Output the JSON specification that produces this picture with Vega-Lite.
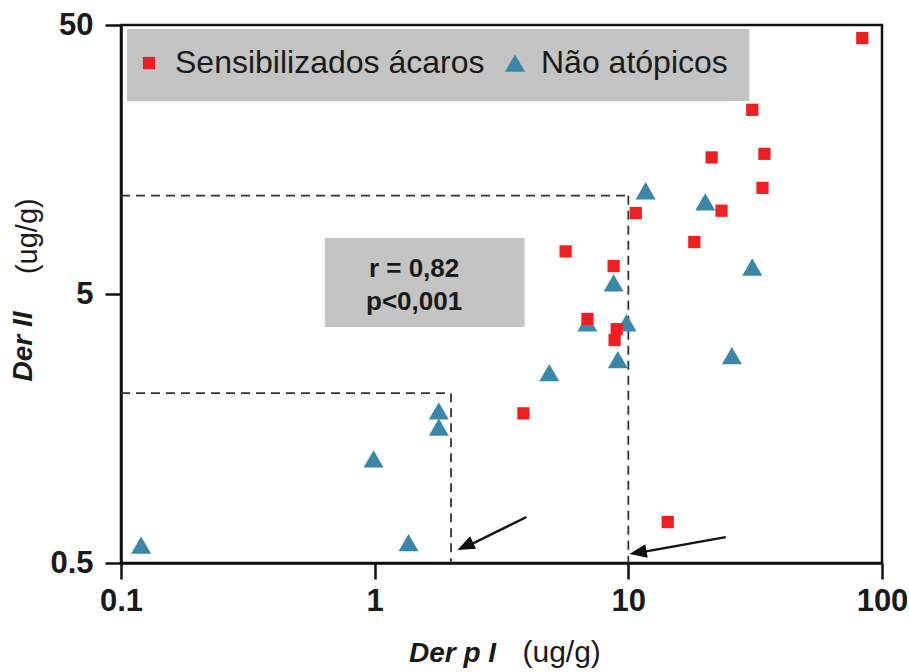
{
  "$schema": "https://vega.github.io/schema/vega-lite/v6.json",
  "width": 761,
  "height": 538,
  "autosize": {"type": "none"},
  "padding": {"left": 121, "top": 25, "right": 27, "bottom": 109},
  "background": "white",
  "config": {
    "view": {"stroke": "#111111", "strokeWidth": 2.5},
    "axis": {
      "grid": false,
      "domainColor": "#111111",
      "domainWidth": 2.5,
      "tickColor": "#111111",
      "tickWidth": 2.5,
      "tickSize": 16,
      "labelFont": "Liberation Sans",
      "labelFontWeight": "bold",
      "labelFontSize": 31,
      "labelColor": "#1a1a1a",
      "labelFlush": false,
      "labelOverlap": false,
      "titleFont": "Liberation Sans",
      "titleFontSize": 28,
      "titleFontWeight": "bold",
      "titleFontStyle": "italic",
      "titleColor": "#1a1a1a"
    }
  },
  "encoding": {
    "x": {
      "field": "x",
      "type": "quantitative",
      "scale": {"type": "log", "domain": [0.1, 100], "nice": false},
      "axis": {
        "values": [0.1, 1, 10, 100],
        "format": "~g",
        "labelPadding": 7,
        "title": "Der p I",
        "titleX": 331,
        "titleY": 90,
        "titleAlign": "center",
        "titleBaseline": "middle"
      }
    },
    "y": {
      "field": "y",
      "type": "quantitative",
      "scale": {"type": "log", "domain": [0.5, 50], "nice": false},
      "axis": {
        "values": [0.5, 5, 50],
        "format": "~g",
        "labelPadding": 12,
        "title": "Der II",
        "titleX": -98,
        "titleY": 321,
        "titleAngle": 270,
        "titleAlign": "center",
        "titleBaseline": "middle"
      }
    }
  },
  "layer": [
    {
      "data": {"values": [{"x": 0.1056, "x2": 30.0, "y": 48.3, "y2": 26.1}]},
      "mark": {"type": "rect", "fill": "#c4c4c4"},
      "encoding": {"x2": {"field": "x2"}, "y2": {"field": "y2"}}
    },
    {
      "data": {"values": [{"x": 0.636, "x2": 3.9, "y": 8.08, "y2": 3.77}]},
      "mark": {"type": "rect", "fill": "#c4c4c4"},
      "encoding": {"x2": {"field": "x2"}, "y2": {"field": "y2"}}
    },
    {
      "data": {"values": [
        {"x": 1.43, "y": 6.2, "label": "r = 0,82"},
        {"x": 1.43, "y": 4.67, "label": "p<0,001"}
      ]},
      "mark": {"type": "text", "font": "Liberation Sans", "fontWeight": "bold", "fontSize": 26, "color": "#1a1a1a", "align": "center", "baseline": "middle"},
      "encoding": {"text": {"field": "label"}}
    },
    {
      "data": {"values": [
        {"x": 0.1, "x2": 10, "y": 11.6, "y2": 11.6},
        {"x": 10, "x2": 10, "y": 11.6, "y2": 0.5},
        {"x": 0.1, "x2": 2, "y": 2.14, "y2": 2.14},
        {"x": 2, "x2": 2, "y": 2.14, "y2": 0.5}
      ]},
      "mark": {"type": "rule", "color": "#333333", "strokeWidth": 1.8, "strokeDash": [9, 6]},
      "encoding": {"x2": {"field": "x2"}, "y2": {"field": "y2"}}
    },
    {
      "data": {"values": [
        {"x": 3.97, "y": 0.741, "x2": 2.3, "y2": 0.575},
        {"x": 24.2, "y": 0.624, "x2": 10.9, "y2": 0.545}
      ]},
      "mark": {"type": "rule", "color": "#111111", "strokeWidth": 2.4},
      "encoding": {"x2": {"field": "x2"}, "y2": {"field": "y2"}}
    },
    {
      "data": {"values": [{"x": 2.12, "y": 0.559}]},
      "mark": {"type": "point", "filled": true, "opacity": 1, "color": "#111111", "shape": "M0,0L0.4,1L-0.4,1Z", "size": 1200, "angle": 244.5}
    },
    {
      "data": {"values": [{"x": 10.1, "y": 0.54}]},
      "mark": {"type": "point", "filled": true, "opacity": 1, "color": "#111111", "shape": "M0,0L0.4,1L-0.4,1Z", "size": 1200, "angle": 260}
    },
    {
      "data": {"values": [
        {"group": "Não atópicos", "x": 11.7, "y": 12.1},
        {"group": "Não atópicos", "x": 20.1, "y": 11.0},
        {"group": "Não atópicos", "x": 30.8, "y": 6.3},
        {"group": "Não atópicos", "x": 8.75, "y": 5.5},
        {"group": "Não atópicos", "x": 6.89, "y": 3.91},
        {"group": "Não atópicos", "x": 9.84, "y": 3.91},
        {"group": "Não atópicos", "x": 9.09, "y": 2.85},
        {"group": "Não atópicos", "x": 25.6, "y": 2.95},
        {"group": "Não atópicos", "x": 4.88, "y": 2.55},
        {"group": "Não atópicos", "x": 1.79, "y": 1.84},
        {"group": "Não atópicos", "x": 1.79, "y": 1.6},
        {"group": "Não atópicos", "x": 0.99, "y": 1.22},
        {"group": "Não atópicos", "x": 1.36, "y": 0.595},
        {"group": "Não atópicos", "x": 0.12, "y": 0.583},
        {"group": "Sensibilizados ácaros", "x": 83.6, "y": 44.7},
        {"group": "Sensibilizados ácaros", "x": 30.8, "y": 24.2},
        {"group": "Sensibilizados ácaros", "x": 34.4, "y": 16.6},
        {"group": "Sensibilizados ácaros", "x": 21.3, "y": 16.1},
        {"group": "Sensibilizados ácaros", "x": 33.8, "y": 12.4},
        {"group": "Sensibilizados ácaros", "x": 23.3, "y": 10.2},
        {"group": "Sensibilizados ácaros", "x": 10.7, "y": 10.0},
        {"group": "Sensibilizados ácaros", "x": 18.2, "y": 7.8},
        {"group": "Sensibilizados ácaros", "x": 5.66, "y": 7.2},
        {"group": "Sensibilizados ácaros", "x": 8.75, "y": 6.35},
        {"group": "Sensibilizados ácaros", "x": 6.9, "y": 4.04},
        {"group": "Sensibilizados ácaros", "x": 9.0, "y": 3.7},
        {"group": "Sensibilizados ácaros", "x": 8.83, "y": 3.37},
        {"group": "Sensibilizados ácaros", "x": 3.86, "y": 1.8},
        {"group": "Sensibilizados ácaros", "x": 14.3, "y": 0.71}
      ]},
      "mark": {"type": "point", "filled": true, "opacity": 1, "strokeWidth": 0},
      "encoding": {
        "color": {
          "field": "group",
          "type": "nominal",
          "scale": {"domain": ["Sensibilizados ácaros", "Não atópicos"], "range": ["#f01f1f", "#3a88a8"]},
          "legend": {
            "orient": "none",
            "legendX": 12,
            "legendY": 22,
            "direction": "horizontal",
            "padding": 0,
            "title": null,
            "labelFont": "Liberation Sans",
            "labelFontSize": 32,
            "labelColor": "#1a1a1a",
            "labelOffset": 10,
            "labelLimit": 500,
            "columnPadding": 14,
            "symbolStrokeWidth": 0,
            "symbolOpacity": 1
          }
        },
        "shape": {
          "field": "group",
          "type": "nominal",
          "scale": {"domain": ["Sensibilizados ácaros", "Não atópicos"], "range": ["square", "triangle-up"]}
        },
        "size": {
          "field": "group",
          "type": "nominal",
          "scale": {"domain": ["Sensibilizados ácaros", "Não atópicos"], "range": [150, 400]}
        }
      }
    },
    {
      "data": {"values": [{"x": 5.46, "y": 0.231, "label": "(ug/g)"}]},
      "mark": {"type": "text", "font": "Liberation Sans", "fontSize": 30, "color": "#1a1a1a", "align": "center", "baseline": "middle"},
      "encoding": {"text": {"field": "label"}}
    },
    {
      "data": {"values": [{"x": 0.043, "y": 8.2, "label": "(ug/g)"}]},
      "mark": {"type": "text", "font": "Liberation Sans", "fontSize": 29, "color": "#1a1a1a", "align": "center", "baseline": "middle", "angle": 270},
      "encoding": {"text": {"field": "label"}}
    }
  ]
}
